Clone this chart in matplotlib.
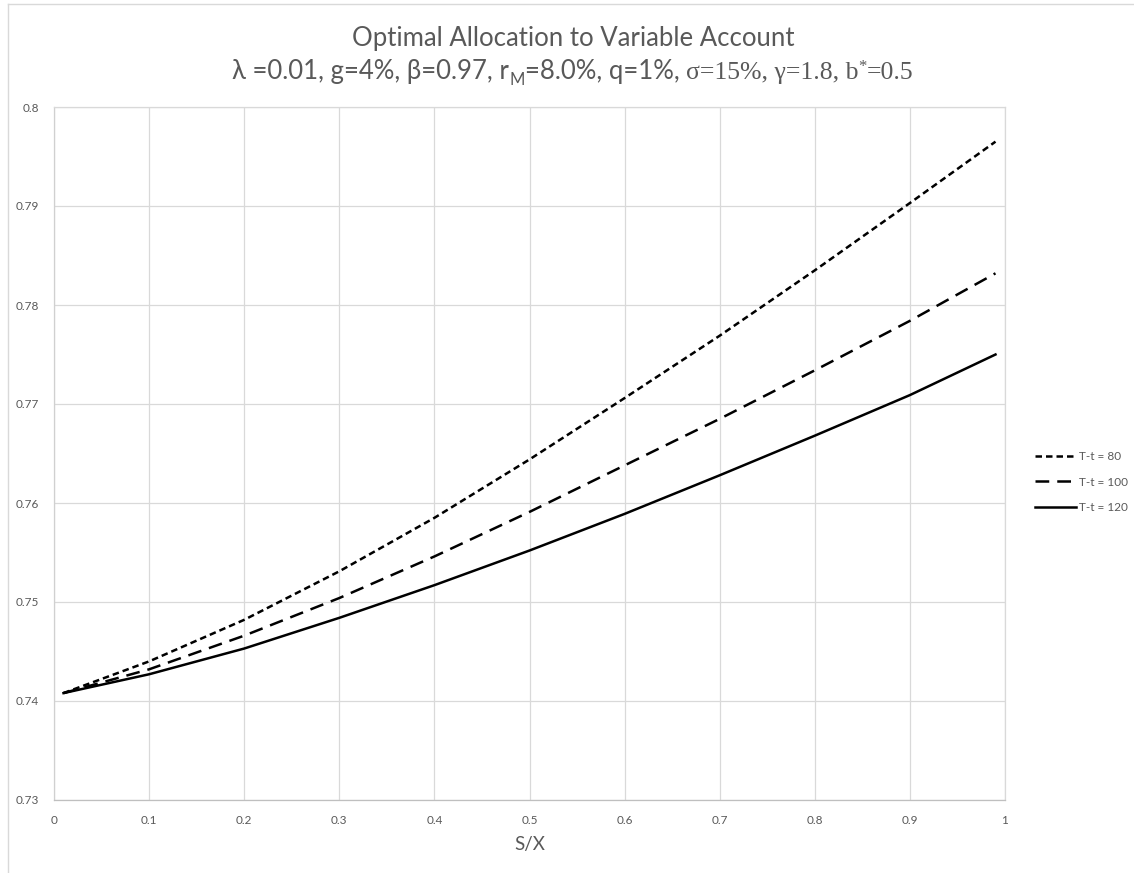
import matplotlib
matplotlib.use("Agg")
import matplotlib.pyplot as plt
from matplotlib.lines import Line2D

# ---- data ----
sx = [0.01, 0.1, 0.2, 0.3, 0.4, 0.5, 0.6, 0.7, 0.8, 0.9, 0.99]
alloc_80 = [0.7408, 0.7440, 0.7482, 0.7531, 0.7585, 0.7644, 0.7706, 0.7769, 0.7835, 0.7903, 0.7965]
alloc_100 = [0.7408, 0.7432, 0.7466, 0.7504, 0.7546, 0.7591, 0.7638, 0.7685, 0.7734, 0.7784, 0.7832]
alloc_120 = [0.7408, 0.7427, 0.7453, 0.7484, 0.7517, 0.7552, 0.7589, 0.7628, 0.7668, 0.7709, 0.7750]
series_labels = ["T-t = 80", "T-t = 100", "T-t = 120"]
x_ticks = [0, 0.1, 0.2, 0.3, 0.4, 0.5, 0.6, 0.7, 0.8, 0.9, 1]
x_tick_labels = ["0", "0.1", "0.2", "0.3", "0.4", "0.5", "0.6", "0.7", "0.8", "0.9", "1"]
y_ticks = [0.73, 0.74, 0.75, 0.76, 0.77, 0.78, 0.79, 0.8]
y_tick_labels = ["0.73", "0.74", "0.75", "0.76", "0.77", "0.78", "0.79", "0.8"]
title_line1 = "Optimal Allocation to Variable Account"

plt.rcParams['font.family'] = ['Lato', 'DejaVu Sans']
GRAY = "#595959"
GRID = "#D9D9D9"

W, H = 1134, 873
fig = plt.figure(figsize=(W / 100, H / 100), dpi=100)
ax = fig.add_axes([54 / W, 1 - 800 / H, (1005 - 54) / W, (800 - 107) / H])

lw = 1.8
l80, = ax.plot(sx, alloc_80, color="black", lw=lw, dashes=(2.6, 1.6), label=series_labels[0])
l100, = ax.plot(sx, alloc_100, color="black", lw=lw, dashes=(5.5, 3.2), label=series_labels[1])
l120, = ax.plot(sx, alloc_120, color="black", lw=lw, label=series_labels[2])

ax.set_xlim(0, 1)
ax.set_ylim(0.73, 0.8)
ax.set_xticks(x_ticks)
ax.set_xticklabels(x_tick_labels)
ax.set_yticks(y_ticks)
ax.set_yticklabels(y_tick_labels)
ax.tick_params(length=0, labelsize=8.5, colors=GRAY)
ax.tick_params(axis="x", pad=11)
ax.tick_params(axis="y", pad=11)
ax.grid(True, color=GRID, lw=0.9)
ax.set_axisbelow(True)
for s in ax.spines.values():
    s.set_color(GRID)
    s.set_linewidth(0.9)
ax.spines["bottom"].set_color("#BFBFBF")
ax.spines["left"].set_color("#D0D0D0")

ax.set_xlabel("S/X", fontsize=13.5, color=GRAY, labelpad=7)

# legend
fig.legend(handles=[l80, l100, l120], labels=series_labels,
           loc="center left", bbox_to_anchor=(1024 / W, 1 - 482 / H),
           frameon=False, fontsize=8.5, labelcolor=GRAY,
           handlelength=3.5, handletextpad=0.3, labelspacing=1.2)

# outer chart border (top and left visible)
fig.add_artist(Line2D([8 / W, 1.0], [1 - 4 / H, 1 - 4 / H], transform=fig.transFigure, color=GRID, lw=1))
fig.add_artist(Line2D([8 / W, 8 / W], [0, 1 - 4 / H], transform=fig.transFigure, color=GRID, lw=1))

# title
cx = 573 / W
fig.text(cx, 1 - 46 / H, title_line1, ha="center", va="baseline", fontsize=18.5, color=GRAY)

sans = ['Lato', 'DejaVu Sans']
serif = ['Liberation Serif', 'DejaVu Serif']
pieces = [
    ("λ =0.01, g=4%, β=0.97, r", sans, 18.5, 0),
    ("M", sans, 12, -6),
    ("=8.0%, q=1%, ", sans, 18.5, 0),
    ("σ=15%, γ=1.8, b", serif, 18.5, 0),
    ("*", serif, 12, 8),
    ("=0.5", serif, 18.5, 0),
]
fig.canvas.draw()
renderer = fig.canvas.get_renderer()
base_y = 1 - 79 / H
texts = []
widths = []
for txt, fam, size, dy in pieces:
    t = fig.text(0, base_y + dy / H, txt, ha="left", va="baseline",
                 fontsize=size, color=GRAY, family=fam)
    bb = t.get_window_extent(renderer=renderer)
    texts.append(t)
    widths.append(bb.width)
total = sum(widths)
x = cx * W - total / 2
for t, w in zip(texts, widths):
    t.set_x(x / W)
    x += w

fig.savefig("out.png", dpi=100)
